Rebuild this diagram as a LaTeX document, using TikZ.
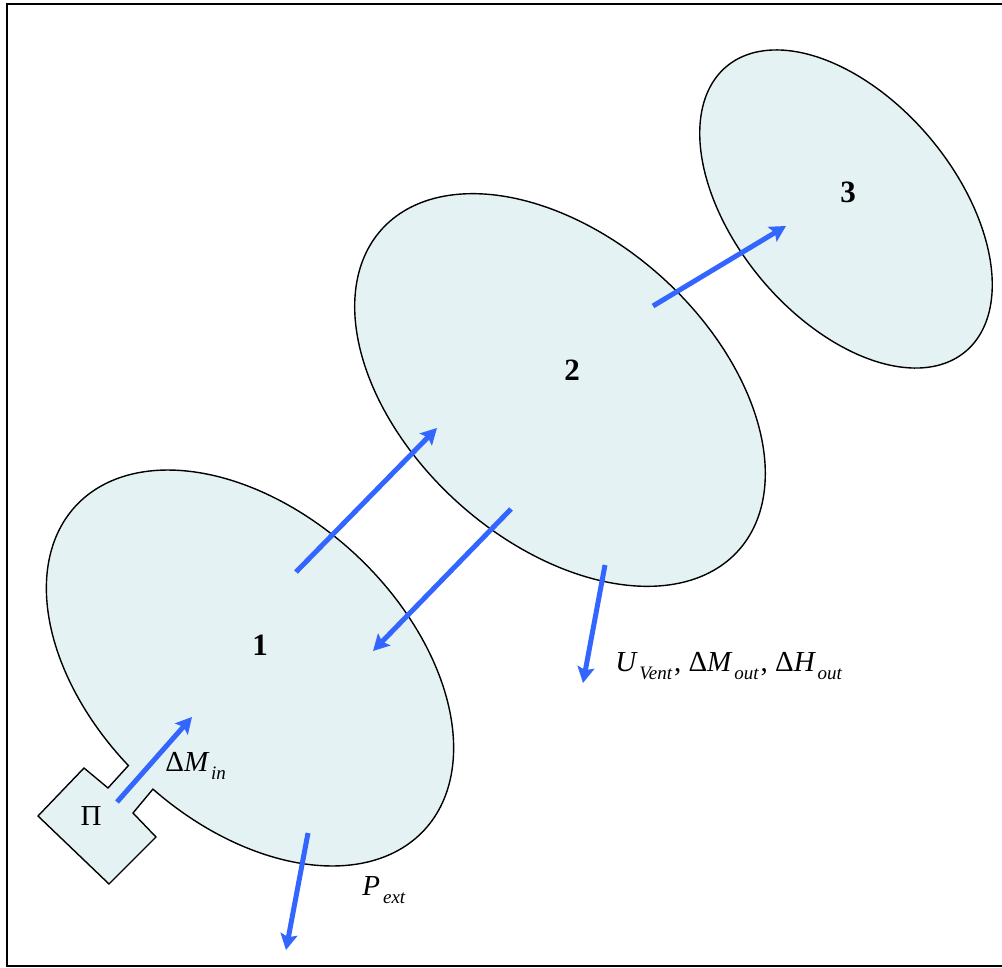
\documentclass[tikz,border=0pt]{standalone}
\usepackage{fontspec}
\setmainfont{Liberation Serif}
\usepackage{tikz}
\usetikzlibrary{arrows.meta, positioning}
\definecolor{zonefill}{HTML}{E4F2F4}
\definecolor{flowblue}{HTML}{3366FF}
\newcommand{\lowsub}[1]{\kern1.5pt\raisebox{-4pt}{\fontsize{9.5}{11}\selectfont\itshape #1}}

\begin{document}
\begin{tikzpicture}[
    x=0.5pt, y=-0.5pt,
    zone/.style={draw=black, fill=zonefill, line width=0.7pt},
    flow/.style={-{Stealth[length=8pt, width=8.5pt, inset=1.5pt]}, flowblue, line width=2.5pt},
    num/.style={font=\fontsize{15.5}{18}\selectfont\bfseries, inner sep=0pt},
    lbl/.style={font=\fontsize{14.5}{17}\selectfont, inner sep=0pt, anchor=base west},
  ]
    \useasboundingbox (0,0) rectangle (1002,968);
    \draw[line width=1.1pt] (7,4) rectangle (1005,966);

    % zone 1 (tilted ellipse) with the feed box
    \draw[zone] plot[domain=95.4:447.2, samples=120, smooth, variable=\t]
        ({250 + 238*cos(\t)*cos(43) - 155*sin(\t)*sin(43)}, {668 + 238*cos(\t)*sin(43) + 155*sin(\t)*cos(43)})
      -- (133,813) -- (156,837) -- (109,884) -- (38,816) -- (84,768) -- (108,788) -- cycle;
    % zone 2
    \draw[zone] plot[domain=0:357, samples=120, smooth cycle, variable=\t]
        ({560 + 240*cos(\t)*cos(42) - 152*sin(\t)*sin(42)}, {390 + 240*cos(\t)*sin(42) + 152*sin(\t)*cos(42)});
    % zone 3
    \draw[zone] plot[domain=0:357, samples=120, smooth cycle, variable=\t]
        ({846 + 186*cos(\t)*cos(50) - 110*sin(\t)*sin(50)}, {209 + 186*cos(\t)*sin(50) + 110*sin(\t)*cos(50)});

    \node[num] (z1) at (260,645) {1};
    \node[num] (z2) at (572,370) {2};
    \node[num] (z3) at (848,192) {3};
    \node[font=\fontsize{14.5}{17}\selectfont, inner sep=0pt] (feed) at (91,816) {Π};

    \coordinate (inA) at (117,802);   \coordinate (inB) at (192,717);
    \coordinate (upA) at (296,572);   \coordinate (upB) at (437,428);
    \coordinate (dnA) at (511,509);   \coordinate (dnB) at (373,651);
    \coordinate (fwA) at (653,306);   \coordinate (fwB) at (786,226);
    \coordinate (exA) at (308,833);   \coordinate (exB) at (286,950);
    \coordinate (vtA) at (605,565);   \coordinate (vtB) at (583,683);

    \draw[flow] (inA) -- (inB);
    \draw[flow] (upA) -- (upB);
    \draw[flow] (dnA) -- (dnB);
    \draw[flow] (fwA) -- (fwB);
    \draw[flow] (exA) -- (exB);
    \draw[flow] (vtA) -- (vtB);

    \node[lbl] (min) at (165,771) {Δ{\itshape M}\lowsub{in}};
    \node[lbl] (pext) at (362,895) {{\itshape P}\lowsub{ext}};
    \node[lbl] (vent) at (615,671) {{\itshape U}\lowsub{Vent}\kern1pt, Δ{\itshape M}\lowsub{out}\kern1pt, Δ{\itshape H}\lowsub{out}};
  \end{tikzpicture}
\end{document}
